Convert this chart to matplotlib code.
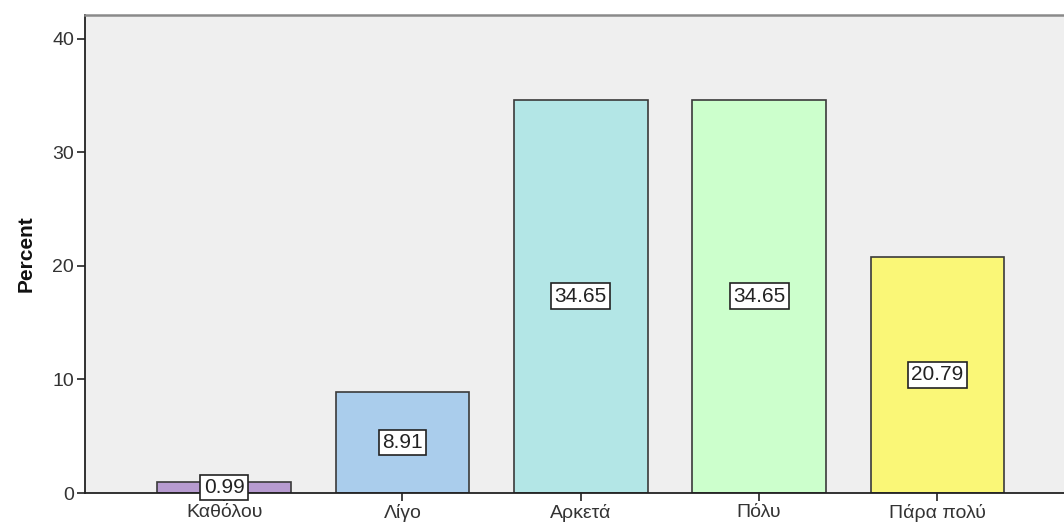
import matplotlib
matplotlib.use("Agg")
import matplotlib.pyplot as plt

categories = ["Καθόλου", "Λίγο", "Αρκετά", "Πόλυ", "Πάρα πολύ"]
percent = [0.99, 8.91, 34.65, 34.65, 20.79]
bar_colors = ["#b79bd0", "#aacdec", "#b3e6e6", "#ccffcc", "#faf777"]
y_ticks = [0, 10, 20, 30, 40]

plt.rcParams["font.family"] = ["Liberation Sans", "DejaVu Sans"]

fig = plt.figure(figsize=(10.64, 5.25), dpi=100)
L, R = 85 / 1064, 1.0
B, T = 32 / 525, 510 / 525
ax = fig.add_axes([L, B, R - L, T - B])
ax.set_facecolor("#efefef")

x = list(range(len(categories)))
ax.bar(x, percent, width=0.75, color=bar_colors, edgecolor="#3a3a3a",
       linewidth=1.2, zorder=2)

for xi, v in zip(x, percent):
    ax.text(xi, v / 2, f"{v:.2f}", ha="center", va="center", fontsize=15,
            color="#222222", zorder=3,
            bbox=dict(boxstyle="square,pad=0.16", fc="white", ec="#222222", lw=1.2))

ax.set_xlim(-0.78, 4.71)
ax.set_ylim(0, 42.1)
ax.set_yticks(y_ticks)
ax.set_xticks(x)
ax.set_xticklabels(categories)
ax.tick_params(axis="both", direction="out", length=6, width=1.2,
               color="#222222", labelcolor="#333333", labelsize=14)
ax.tick_params(axis="y", pad=2)
ax.tick_params(axis="x", pad=2)

for side in ["left", "bottom"]:
    ax.spines[side].set_color("#222222")
    ax.spines[side].set_linewidth(1.3)
ax.spines["top"].set_color("#8a8a8a")
ax.spines["top"].set_linewidth(1.8)
ax.spines["right"].set_visible(False)

ax.set_ylabel("Percent", fontsize=15, fontweight="bold",
              color="#111111", labelpad=12)

fig.savefig("out.png", dpi=100, facecolor="white")
